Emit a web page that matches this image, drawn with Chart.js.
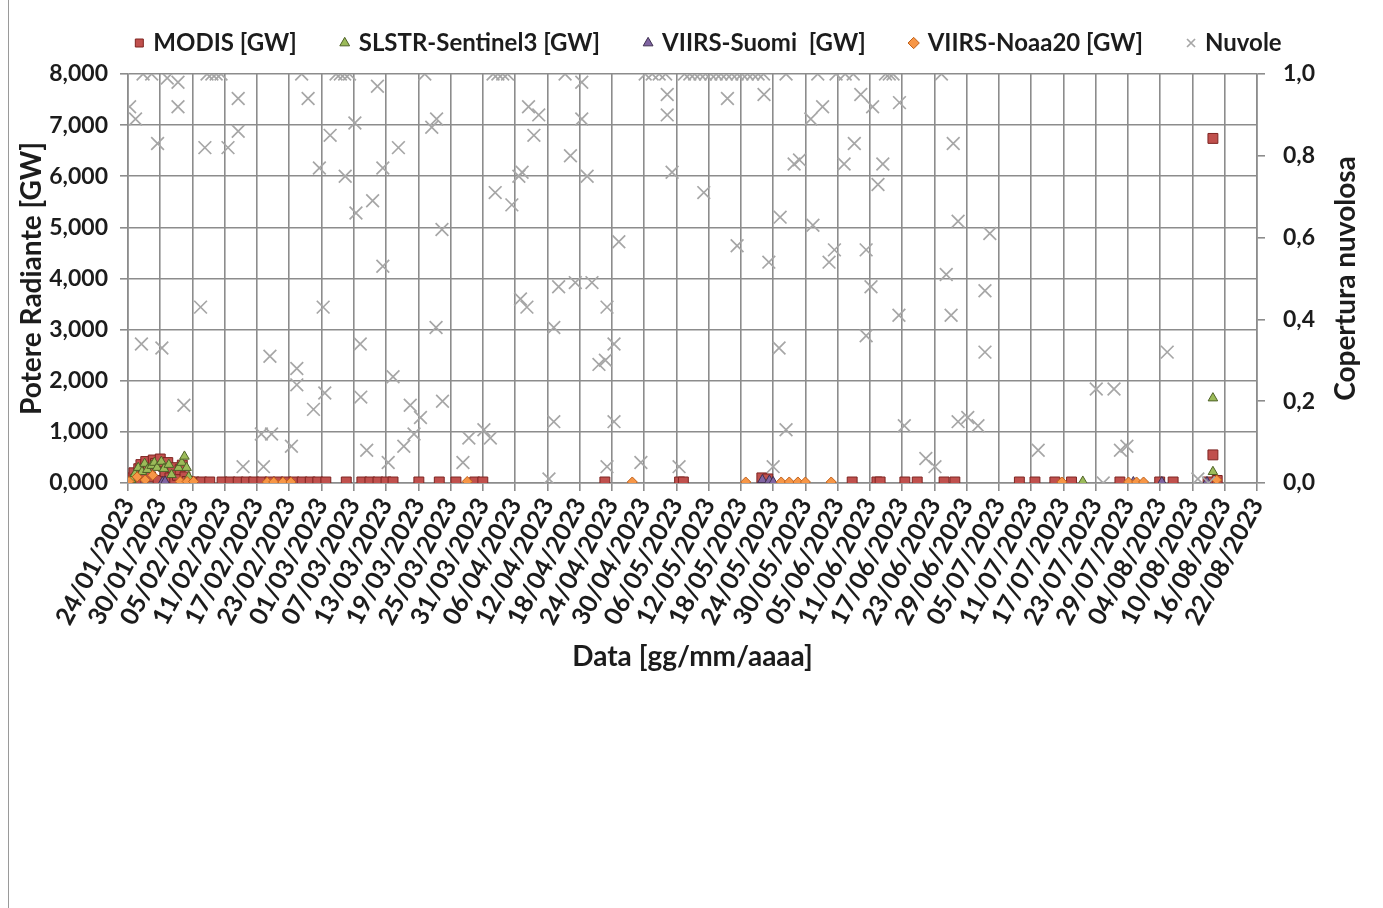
<!DOCTYPE html>
<html>
<head>
<meta charset="utf-8">
<script src="https://cdn.jsdelivr.net/npm/chart.js@4.4.0/dist/chart.umd.min.js"></script>
<style>
html,body{margin:0;padding:0;background:#fff;overflow:hidden}
#wrap{position:relative;width:1383px;height:908px}
</style>
</head>
<body>
<div id="wrap"><canvas id="c" width="1383" height="908"></canvas></div>
<script>
// ---- tick labels (x axis: every 6 days from 24/01/2023) ----
const xTickLabels = ['24/01/2023','30/01/2023','05/02/2023','11/02/2023','17/02/2023','23/02/2023',
  '01/03/2023','07/03/2023','13/03/2023','19/03/2023','25/03/2023','31/03/2023','06/04/2023',
  '12/04/2023','18/04/2023','24/04/2023','30/04/2023','06/05/2023','12/05/2023','18/05/2023',
  '24/05/2023','30/05/2023','05/06/2023','11/06/2023','17/06/2023','23/06/2023','29/06/2023',
  '05/07/2023','11/07/2023','17/07/2023','23/07/2023','29/07/2023','04/08/2023','10/08/2023',
  '16/08/2023','22/08/2023'];

// ---- series: x = days since 24/01/2023 ----
const modisDay = [0.2,0.7,1.1,1.5,2.0,2.4,2.9,3.3,3.8,4.2,4.7,5.1,5.6,6.0,6.5,6.9,7.4,7.8,8.3,8.7,9.2,9.7,10.1,10.6,11.0,11.6,12.3,13.7,15.2,
  17.5,19.0,20.5,22.0,23.4,24.9,26.4,27.9,29.4,30.9,32.4,33.9,35.3,36.8,40.6,43.5,45.0,46.5,48.0,49.3,
  54.1,57.9,61.0,64.5,66.0,88.7,102.6,103.3,117.9,119.0,134.7,139.3,139.9,144.5,146.8,151.8,153.8,
  165.8,168.7,172.4,175.5,184.5,191.9,194.4,200.9,201.8,201.8,202.6];
const modisGW = [0.03,0.10,0.20,0.08,0.28,0.36,0.18,0.42,0.30,0.12,0.45,0.38,0.05,0.47,0.33,0.22,0.40,0.10,0.30,0.04,0.15,0.26,0.35,0.12,0.03,0.02,0.02,0.02,0.02,
  0.02,0.02,0.02,0.02,0.02,0.02,0.02,0.02,0.02,0.02,0.02,0.02,0.02,0.02,0.02,0.02,0.02,0.02,0.02,0.02,
  0.02,0.02,0.02,0.02,0.02,0.02,0.02,0.02,0.10,0.08,0.02,0.02,0.02,0.02,0.02,0.02,0.02,
  0.02,0.02,0.02,0.02,0.02,0.02,0.02,0.02,6.74,0.55,0.05];

const slstrDay = [0.6,1.3,1.9,2.6,3.1,3.6,4.4,4.9,5.4,6.2,6.7,7.6,8.1,9.4,10.0,10.5,10.9,11.3,177.6,201.8,201.8];
const slstrGW  = [0.06,0.18,0.30,0.22,0.38,0.26,0.34,0.40,0.30,0.42,0.28,0.36,0.16,0.30,0.40,0.52,0.30,0.12,0.03,1.66,0.22];

const suomiDay = [6.4,6.9,118.0,119.3,120.0,187.0,192.3,200.7];
const suomiGW  = [0.02,0.03,0.06,0.05,0.02,0.02,0.02,0.02];

const noaaDay = [0.2,1.7,3.2,4.6,9.7,11.0,12.2,25.9,27.1,28.8,30.3,63.1,93.8,114.9,121.5,123.0,124.6,126.0,130.8,173.7,186.1,187.6,188.9,202.5];
const noaaGW  = [0.03,0.12,0.06,0.15,0.03,0.03,0.03,0.02,0.02,0.02,0.02,0.03,0.02,0.02,0.02,0.02,0.02,0.02,0.02,0.02,0.02,0.02,0.02,0.06];

const cloudDay = [0.3,1.4,2.5,2.8,4.4,5.5,6.3,7.3,9.3,9.3,10.4,13.5,14.3,14.7,15.6,16.4,17.3,18.6,20.5,20.5,21.4,24.8,25.2,26.4,26.7,
  30.4,31.4,31.4,32.3,33.5,34.5,35.6,36.3,36.6,37.6,38.7,39.5,40.3,40.4,41.2,42.2,42.4,43.2,43.3,44.4,45.5,46.4,47.4,47.4,48.4,
  49.3,50.3,51.3,52.5,53.2,54.4,55.2,56.5,57.3,57.4,58.4,58.5,62.3,63.4,66.2,67.4,67.9,68.3,68.8,69.7,70.6,71.4,72.7,73.0,73.3,
  74.2,74.5,75.5,76.4,78.3,79.2,79.2,80.1,81.3,82.3,83.2,84.4,84.4,85.4,86.3,87.6,88.8,89.1,89.1,90.4,90.4,91.3,95.4,
  96.2,97.5,98.8,100.0,100.3,100.3,101.2,102.5,103.5,104.5,105.4,106.4,107.4,108.4,109.4,110.3,111.3,112.3,113.3,114.2,115.2,116.2,117.2,118.2,
  107.1,111.5,113.3,118.3,119.2,120.0,121.1,121.3,122.4,122.4,123.9,124.9,127.0,127.4,128.3,129.2,130.4,131.4,131.7,133.2,133.4,134.9,135.1,
  136.3,137.3,137.3,138.2,138.5,139.5,140.4,140.9,141.6,142.3,143.4,143.5,144.4,148.4,150.1,151.3,152.2,153.1,153.5,154.4,154.4,156.2,158.1,
  159.4,159.4,160.3,169.3,180.1,181.4,183.4,184.6,185.8,193.3,199.0,201.0];
const cloudCover = [0.92,0.89,0.34,1.0,1.0,0.83,0.33,0.99,0.98,0.92,0.19,0.43,0.82,1.0,1.0,1.0,1.0,0.82,0.94,0.86,0.04,0.12,0.04,0.31,0.12,
  0.09,0.28,0.24,1.0,0.94,0.18,0.77,0.43,0.22,0.85,1.0,1.0,1.0,0.75,1.0,0.88,0.66,0.34,0.21,0.08,0.69,0.97,0.77,0.53,0.05,
  0.26,0.82,0.09,0.19,0.12,0.16,1.0,0.87,0.38,0.89,0.62,0.20,0.05,0.11,0.13,0.11,1.0,0.71,1.0,1.0,1.0,0.68,0.75,0.45,0.76,
  0.43,0.92,0.85,0.90,0.01,0.38,0.15,0.48,1.0,0.80,0.49,0.98,0.89,0.75,0.49,0.29,0.30,0.43,0.04,0.34,0.15,0.59,0.05,
  1.0,1.0,1.0,1.0,0.95,0.90,0.76,0.04,1.0,1.0,1.0,1.0,1.0,1.0,1.0,1.0,1.0,1.0,1.0,1.0,1.0,1.0,1.0,1.0,
  0.71,0.94,0.58,0.95,0.54,0.04,0.33,0.65,1.0,0.13,0.78,0.79,0.89,0.63,1.0,0.92,0.54,0.57,1.0,0.78,1.0,1.0,0.83,
  0.95,0.57,0.36,0.48,0.92,0.73,0.78,1.0,1.0,1.0,0.41,0.93,0.14,0.06,0.04,1.0,0.51,0.41,0.83,0.64,0.15,0.16,0.14,
  0.47,0.32,0.61,0.08,0.23,0.0,0.23,0.08,0.09,0.32,0.01,0.0];

// ---- styling ----
const TEXT = '#1c1c1c';
const GRID = '#8c8c8c';
const LEGFONT = {family: 'Lato', size: 24, weight: 'bold'};
const YTICKFONT = {family: 'Lato', size: 23, weight: 'bold'};
const XTICKFONT = {family: 'Lato', size: 25, weight: 'bold'};
const TITLEFONT = {family: 'Lato', size: 28, weight: 'bold'};

function pts(xs, ys) { return xs.map((x, i) => ({x: x, y: ys[i]})); }

const tweak = {
  id: 'tweak',
  beforeLayout(chart) {
    const lg = chart.legend;
    if (lg && !lg._tw) {
      lg._tw = true;
      const f = lg.fit;
      lg.fit = function () { f.call(this); this.height = 74; };
      const d = lg.draw;
      lg.draw = function (a) {
        const c = this.ctx; c.save(); c.translate(18, -15); d.call(this, a); c.restore();
      };
    }
  },
  beforeDraw(chart) {
    const c = chart.ctx;
    c.save();
    c.fillStyle = '#fff'; c.fillRect(0, 0, chart.width, chart.height);
    c.strokeStyle = '#9a9a9a'; c.lineWidth = 1;
    c.beginPath(); c.moveTo(8.5, 908); c.lineTo(8.5, 0); c.stroke();
    c.restore();
  },
  afterDraw(chart) {
    const c = chart.ctx, a = chart.chartArea;
    c.save();
    c.translate(1346, (a.top + a.bottom) / 2);
    c.rotate(-Math.PI / 2);
    c.font = 'bold 28px Lato';
    c.fillStyle = TEXT; c.textAlign = 'center'; c.textBaseline = 'middle';
    c.fillText('Copertura nuvolosa', 0, 0);
    c.restore();
  }
};

new Chart(document.getElementById('c'), {
  type: 'scatter',
  data: {
    datasets: [
      {label: 'MODIS [GW]', data: pts(modisDay, modisGW), yAxisID: 'y', pointStyle: 'rect', pointRadius: 7,
       backgroundColor: '#c0504d', borderColor: '#7e2421', borderWidth: 1, order: 5},
      {label: 'SLSTR-Sentinel3 [GW]', data: pts(slstrDay, slstrGW), yAxisID: 'y', pointStyle: 'triangle', pointRadius: 5.5,
       backgroundColor: '#9bbb59', borderColor: '#4f6228', borderWidth: 1, order: 4},
      {label: 'VIIRS-Suomi  [GW]', data: pts(suomiDay, suomiGW), yAxisID: 'y', pointStyle: 'triangle', pointRadius: 5.5,
       backgroundColor: '#8064a2', borderColor: '#3f3151', borderWidth: 1, order: 3},
      {label: 'VIIRS-Noaa20 [GW]', data: pts(noaaDay, noaaGW), yAxisID: 'y', pointStyle: 'rectRot', pointRadius: 5,
       backgroundColor: '#f79646', borderColor: '#c0601a', borderWidth: 1, order: 2},
      {label: 'Nuvole', data: pts(cloudDay, cloudCover), yAxisID: 'y1', pointStyle: 'crossRot', pointRadius: 9,
       backgroundColor: '#a6a6a6', borderColor: '#a6a6a6', borderWidth: 1.7, order: 1}
    ]
  },
  options: {
    responsive: false,
    animation: false,
    layout: {padding: {left: 15, right: 15, top: 0, bottom: 0}},
    plugins: {
      legend: {
        position: 'top', align: 'center',
        labels: {usePointStyle: true, boxHeight: 8, boxWidth: 4, padding: 46, color: TEXT, font: LEGFONT,
                 sort: (a, b) => a.datasetIndex - b.datasetIndex}
      },
      tooltip: {enabled: false}
    },
    scales: {
      x: {
        type: 'linear', position: 'bottom', min: 0, max: 210,
        afterFit: s => { s.height = 908 - 483; },
        ticks: {stepSize: 6, autoSkip: false, maxRotation: 62, minRotation: 62, padding: 2, color: TEXT, font: XTICKFONT,
                callback: v => xTickLabels[Math.round(v / 6)]},
        grid: {color: GRID, lineWidth: 1.6, tickLength: 8},
        border: {color: GRID, width: 1.6},
        title: {display: true, text: 'Data [gg/mm/aaaa]', color: TEXT, font: TITLEFONT, padding: {top: 0, bottom: 234}}
      },
      y: {
        position: 'left', min: 0, max: 8,
        afterFit: s => { s.width = 113; },
        ticks: {stepSize: 1, padding: 12, color: TEXT, font: YTICKFONT, callback: v => v.toFixed(3).replace('.', ',')},
        grid: {color: GRID, lineWidth: 1.6, tickLength: 8},
        border: {color: GRID, width: 1.6},
        title: {display: true, text: 'Potere Radiante [GW]', color: TEXT, font: TITLEFONT, padding: {top: 0, bottom: 0}}
      },
      y1: {
        position: 'right', min: 0, max: 1,
        afterFit: s => { s.width = 1383 - 15 - 1257; },
        ticks: {stepSize: 0.2, padding: 18, color: TEXT, font: YTICKFONT, callback: v => v.toFixed(1).replace('.', ',')},
        grid: {drawOnChartArea: false, color: GRID, lineWidth: 1.6, tickLength: 8},
        border: {color: GRID, width: 1.6}
      }
    }
  },
  plugins: [tweak]
});
</script>
</body>
</html>
